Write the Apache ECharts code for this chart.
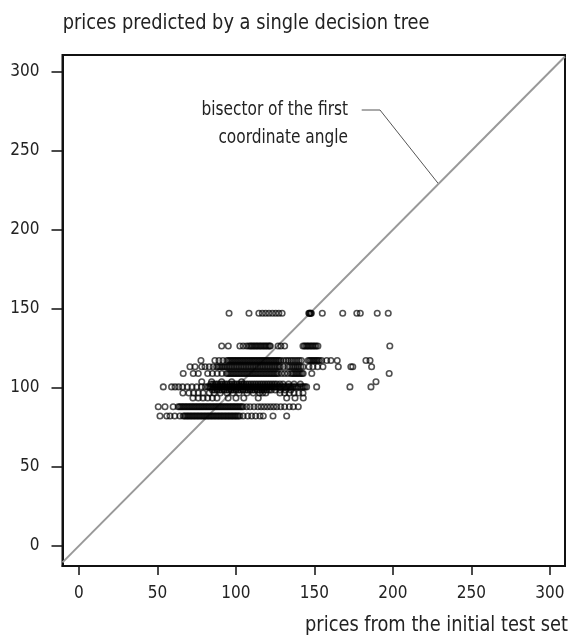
<!DOCTYPE html>
<html>
<head>
<meta charset="utf-8">
<script src="https://cdn.jsdelivr.net/npm/echarts@6.0.0/dist/echarts.min.js"></script>
<style>
html,body{margin:0;padding:0;background:#fff;}
#c{width:575px;height:642px;}
</style>
</head>
<body>
<div id="c"></div>
<script>
// ---- data ----
const xTicks = [0, 50, 100, 150, 200, 250, 300];
const yTicks = [0, 50, 100, 150, 200, 250, 300];
const xRange = [-10.5, 309.6];
const yRange = [-12.8, 310.5];

// predicted price levels (y) and the actual prices (x) of the test items at each level
const level147 = 147.1;
const actual147 = [95.6, 108.3, 114.6, 116.8, 118.9, 121.0, 123.2, 125.3, 127.3, 129.4, 146.4, 146.8, 147.2, 147.6, 148.0, 155.0, 168.0, 177.0, 179.2, 190.0, 197.0];
const level126 = 126.4;
const actual126 = [90.9, 95.1, 102.5, 104.6, 106.7, 108.2, 109.2, 110.1, 111.0, 112.0, 112.9, 113.8, 114.8, 115.7, 116.6, 117.6, 118.5, 119.4, 120.4, 121.3, 121.9, 126.8, 128.6, 131.0, 142.7, 143.6, 144.6, 145.5, 146.4, 147.4, 148.3, 149.2, 150.2, 151.1, 152.2, 198.0];
const level117 = 117.2;
const actual117 = [77.7, 86.6, 89.2, 91.7, 94.2, 95.2, 96.1, 97.0, 97.9, 98.8, 99.7, 100.6, 101.5, 102.4, 103.3, 104.2, 105.1, 106.0, 106.9, 107.8, 108.7, 109.6, 110.5, 111.4, 112.3, 113.2, 114.1, 115.0, 115.9, 116.8, 117.7, 118.6, 119.5, 120.4, 121.3, 122.2, 123.1, 124.0, 124.9, 125.8, 126.7, 127.6, 128.6, 130.4, 132.0, 133.4, 134.9, 136.2, 137.6, 139.0, 140.3, 141.7, 146.0, 146.9, 147.8, 148.7, 149.6, 150.5, 151.4, 152.3, 153.2, 154.6, 157.8, 160.5, 164.5, 182.8, 185.4];
const level113 = 113.3;
const actual113 = [70.7, 73.9, 78.2, 80.3, 83.0, 85.5, 87.7, 88.8, 89.9, 91.0, 92.1, 93.2, 94.3, 95.4, 96.5, 97.6, 98.7, 99.8, 100.9, 102.0, 103.1, 104.2, 105.3, 106.4, 107.5, 108.6, 109.7, 110.8, 111.9, 113.0, 114.1, 115.2, 116.3, 117.4, 118.5, 119.6, 120.7, 121.8, 122.9, 124.0, 125.1, 126.2, 127.3, 128.2, 130.2, 133.0, 134.3, 135.6, 136.8, 137.9, 139.0, 140.0, 141.3, 142.7, 146.5, 149.0, 152.0, 155.4, 165.2, 173.2, 174.4, 186.4];
const level109 = 109.0;
const actual109 = [66.4, 72.8, 76.0, 82.0, 85.0, 88.0, 91.0, 94.0, 95.0, 96.0, 97.0, 98.0, 99.0, 100.0, 101.0, 102.0, 103.0, 104.0, 105.0, 106.0, 107.0, 108.0, 109.0, 110.0, 111.0, 112.0, 113.0, 114.0, 115.0, 116.0, 117.0, 118.0, 119.0, 120.0, 121.0, 122.0, 123.0, 124.0, 125.0, 126.0, 127.0, 129.0, 131.0, 133.0, 135.0, 136.0, 137.0, 138.0, 139.0, 140.0, 141.0, 142.0, 142.8, 148.3, 197.6];
const level104 = 103.8;
const actual104 = [78.2, 84.5, 90.9, 97.3, 103.6, 189.2];
const level102 = 102.3;
const actual102 = [84.0, 85.5, 87.0, 88.5, 90.0, 91.5, 93.0, 94.5, 96.0, 97.5, 99.0, 100.5, 102.0, 103.5, 105.0, 106.5, 108.0, 109.5, 111.0, 112.5, 114.0, 115.5, 117.0, 118.5, 120.0, 121.5, 123.0, 124.5, 126.0, 128.0, 130.0, 133.5, 137.0, 141.0];
const level100 = 100.5;
const actual100 = [53.7, 59.0, 61.2, 63.5, 66.0, 69.0, 72.0, 75.0, 78.0, 80.5, 82.0, 82.9, 83.8, 84.7, 85.6, 86.5, 87.4, 88.3, 89.2, 90.1, 91.0, 91.9, 92.8, 93.7, 94.6, 95.5, 96.4, 97.3, 98.2, 99.1, 100.0, 100.9, 101.8, 102.7, 103.6, 104.5, 105.4, 106.3, 107.2, 108.1, 109.0, 109.9, 110.8, 111.7, 112.6, 113.5, 114.4, 115.3, 116.2, 117.1, 118.0, 118.9, 119.8, 120.7, 121.6, 122.5, 123.4, 124.3, 125.2, 126.1, 127.0, 127.9, 128.8, 129.7, 130.6, 131.5, 132.4, 133.3, 134.2, 135.1, 136.0, 137.0, 138.2, 139.5, 141.0, 142.2, 143.0, 144.0, 145.0, 151.4, 172.6, 186.0];
const level98 = 98.6;
const actual98 = [85.0, 86.5, 88.0, 89.5, 91.0, 92.5, 94.0, 95.5, 97.0, 98.5, 100.0, 101.5, 103.0, 104.5, 106.0, 107.5, 109.0, 110.5, 112.0, 113.5, 115.0, 116.5, 118.0, 119.5, 121.0, 122.5, 125.0, 128.0, 131.5, 135.0];
const level97 = 96.7;
const actual97 = [66.2, 70.0, 73.0, 76.0, 79.0, 83.0, 86.0, 90.0, 94.3, 98.0, 102.0, 107.0, 111.0, 115.0, 117.0, 119.0, 128.0, 131.0, 134.0, 137.0, 140.0, 142.7];
const level93 = 93.5;
const actual93 = [72.6, 76.0, 79.0, 82.0, 85.0, 87.9, 95.0, 100.0, 105.0, 114.2, 132.3, 137.6, 142.9];
const level88 = 88.0;
const actual88 = [50.5, 54.8, 60.0, 63.2, 64.1, 65.0, 65.9, 66.8, 67.7, 68.6, 69.5, 70.4, 71.3, 72.2, 73.1, 74.0, 74.9, 75.8, 76.7, 77.6, 78.5, 79.4, 80.3, 81.2, 82.1, 83.0, 83.9, 84.8, 85.7, 86.6, 87.5, 88.4, 89.3, 90.2, 91.1, 92.0, 92.9, 93.8, 94.7, 95.6, 96.5, 97.4, 98.3, 99.2, 100.1, 101.0, 101.9, 102.8, 103.7, 104.6, 106.8, 109.0, 111.5, 114.0, 116.0, 118.0, 120.0, 122.0, 124.0, 126.0, 128.5, 131.0, 134.0, 136.5, 139.7];
const level82 = 82.1;
const actual82 = [51.6, 55.9, 58.0, 61.0, 64.3, 66.4, 67.3, 68.2, 69.1, 70.0, 70.9, 71.8, 72.7, 73.6, 74.5, 75.4, 76.3, 77.2, 78.1, 79.0, 79.9, 80.8, 81.7, 82.6, 83.5, 84.4, 85.3, 86.2, 87.1, 88.0, 88.9, 89.8, 90.7, 91.6, 92.5, 93.4, 94.3, 95.2, 96.1, 97.0, 97.9, 98.8, 99.7, 100.6, 101.5, 102.5, 104.6, 107.5, 110.0, 112.5, 115.3, 117.4, 123.6, 132.3];

const levels = [
  [level147, actual147], [level126, actual126], [level117, actual117], [level113, actual113],
  [level109, actual109], [level104, actual104], [level102, actual102], [level100, actual100],
  [level98, actual98], [level97, actual97], [level93, actual93], [level88, actual88], [level82, actual82]
];
const points = [];
levels.forEach(function (l) { l[1].forEach(function (x) { points.push([x, l[0]]); }); });

const bisectorAt = 229; // where the annotation leader meets the bisector

const FONT = '"DejaVu Sans Condensed", "Liberation Sans", sans-serif';

const chart = echarts.init(document.getElementById('c'), null, {renderer: 'canvas'});
chart.setOption({
  animation: false,
  backgroundColor: '#fff',
  grid: {
    left: 62.5, top: 55, right: 10, bottom: 76,
    show: true, borderColor: '#111', borderWidth: 2, backgroundColor: 'transparent'
  },
  xAxis: {
    type: 'value', min: xRange[0], max: xRange[1],
    axisLine: {show: true, onZero: false, lineStyle: {color: '#111', width: 2}},
    axisTick: {show: true, customValues: xTicks, length: 9, lineStyle: {color: '#111', width: 1.5}},
    axisLabel: {customValues: xTicks, margin: 19, fontFamily: 'DejaVu Sans Condensed', fontSize: 17, color: '#222'},
    splitLine: {show: false}
  },
  yAxis: {
    type: 'value', min: yRange[0], max: yRange[1],
    axisLine: {show: true, onZero: false, lineStyle: {color: '#111', width: 2}},
    axisTick: {show: true, customValues: yTicks, length: 11, lineStyle: {color: '#111', width: 1.5}},
    axisLabel: {customValues: yTicks, margin: 23, fontFamily: 'DejaVu Sans Condensed', fontSize: 17, color: '#222'},
    splitLine: {show: false}
  },
  series: [
    {
      type: 'line',
      data: [[xRange[0], xRange[0]], [xRange[1], xRange[1]]],
      symbol: 'none', silent: true, clip: true,
      lineStyle: {color: '#999', width: 2},
      z: 1
    },
    {
      type: 'scatter',
      data: points,
      symbol: 'circle', symbolSize: 5.5,
      itemStyle: {color: 'rgba(255,255,255,0)', borderColor: 'rgba(0,0,0,0.85)', borderWidth: 1.6},
      silent: true,
      z: 2
    }
  ]
});

const end = chart.convertToPixel({gridIndex: 0}, [bisectorAt, bisectorAt]);
chart.setOption({
  graphic: [
    {type: 'text', x: 62.7, y: 23, scaleX: 0.9, style: {text: 'prices predicted by a single decision tree', align: 'left', verticalAlign: 'middle', font: '22px ' + FONT, fill: '#222'}},
    {type: 'text', x: 348, y: 110, scaleX: 0.9, style: {text: 'bisector of the first', align: 'right', verticalAlign: 'middle', font: '19px ' + FONT, fill: '#222'}},
    {type: 'text', x: 348, y: 138, scaleX: 0.9, style: {text: 'coordinate angle', align: 'right', verticalAlign: 'middle', font: '19px ' + FONT, fill: '#222'}},
    {type: 'polyline', shape: {points: [[361.7, 110], [380, 110], end]}, style: {stroke: '#555', lineWidth: 1, fill: null}},
    {type: 'text', x: 568, y: 625, scaleX: 0.9, style: {text: 'prices from the initial test set', align: 'right', verticalAlign: 'middle', font: '22px ' + FONT, fill: '#222'}}
  ]
});
</script>
</body>
</html>
